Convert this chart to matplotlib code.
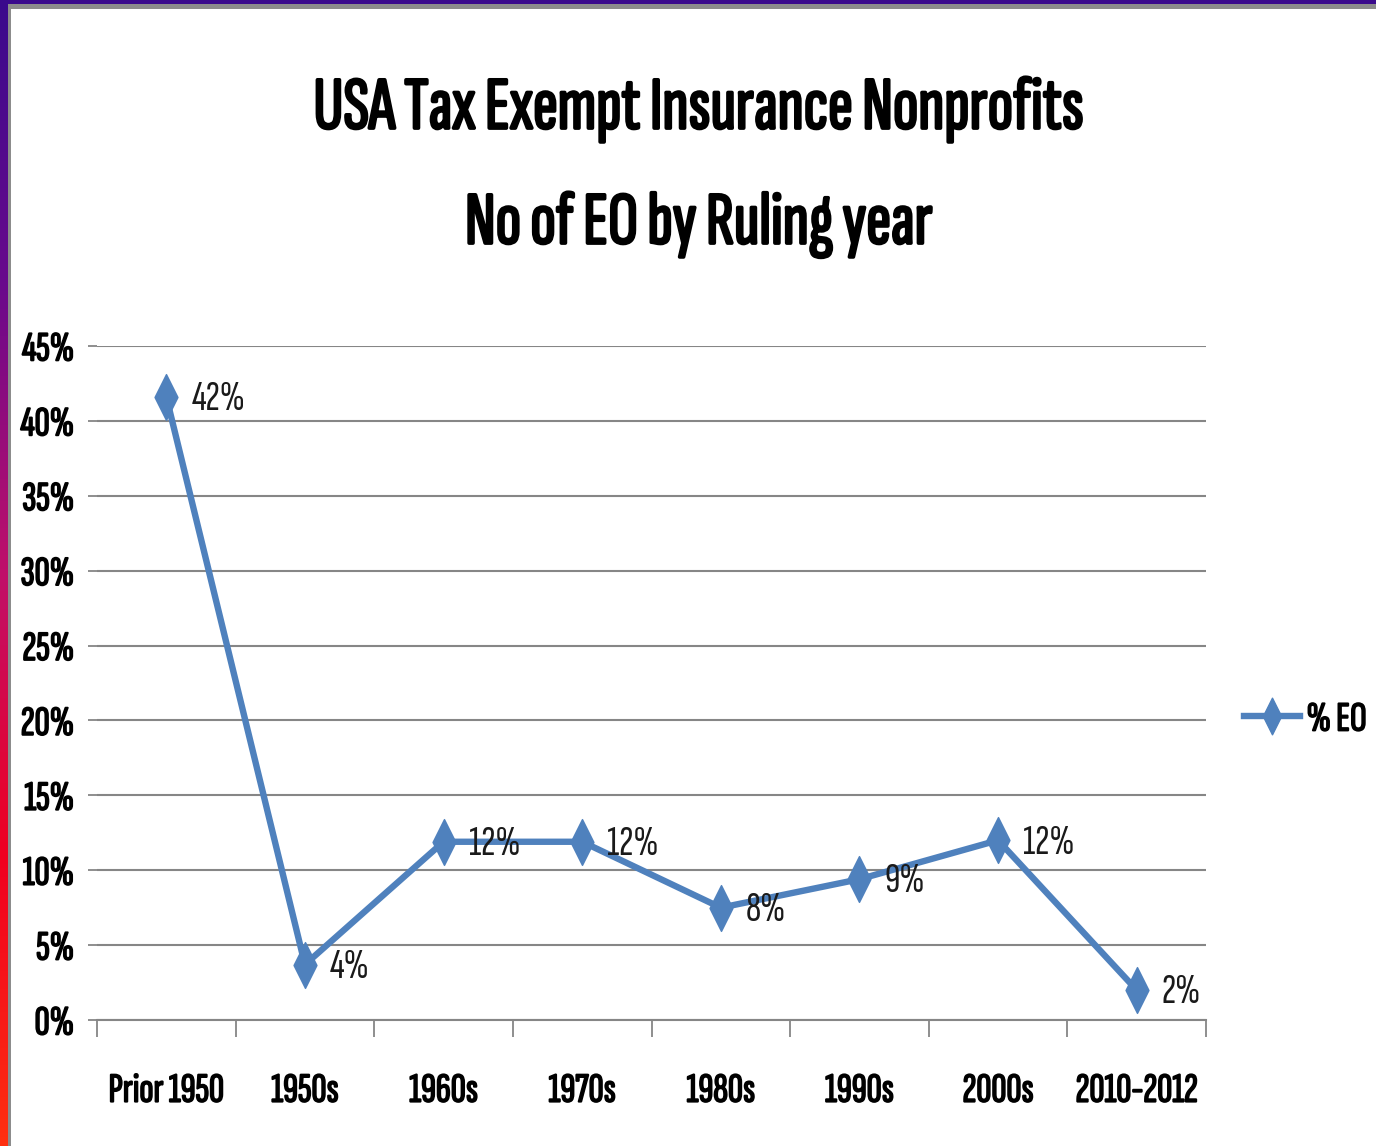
import numpy as np
import matplotlib
matplotlib.use("Agg")
import matplotlib.pyplot as plt
import matplotlib.patheffects as pe
from matplotlib.path import Path

# data
categories = ["Prior 1950", "1950s", "1960s", "1970s", "1980s", "1990s", "2000s", "2010-2012"]
pct_eo = [0.416, 0.037, 0.119, 0.119, 0.075, 0.094, 0.120, 0.020]
pct_labels = ["42%", "4%", "12%", "12%", "8%", "9%", "12%", "2%"]
y_ticks = [0, 0.05, 0.10, 0.15, 0.20, 0.25, 0.30, 0.35, 0.40, 0.45]
y_tick_labels = ["0%", "5%", "10%", "15%", "20%", "25%", "30%", "35%", "40%", "45%"]

FONT = ["Sofia Sans Extra Condensed", "DejaVu Sans"]
BLUE = "#4F81BD"
GRID = "#868686"
# the condensed font has no real bold here, so thicken it with a stroke
BOLD = [pe.withStroke(linewidth=1.2, foreground="black")]
BOLD_BIG = [pe.withStroke(linewidth=2.0, foreground="black")]

# tall narrow diamond marker, like the excel one
diamond = Path([(0, 1), (0.5, 0), (0, -1), (-0.5, 0), (0, 1)],
               [Path.MOVETO, Path.LINETO, Path.LINETO, Path.LINETO, Path.CLOSEPOLY])

W, H = 1376, 1146
fig = plt.figure(figsize=(W / 100, H / 100), dpi=100)
fig.patch.set_facecolor("white")


def band(rect, color):
    a = fig.add_axes(rect)
    a.axis("off")
    a.add_patch(plt.Rectangle((0, 0), 1, 1, color=color, transform=a.transAxes))


# slide frame: purple bar on top, purple->red strip on the left, grey edge inside
band([0, 1 - 4 / H, 1, 4 / H], "#3A0A8C")
band([8 / W, 1 - 9 / H, 1 - 8 / W, 5 / H], "#8C8C8C")
strip = fig.add_axes([0, 0, 8 / W, 1])
grad = np.linspace(0, 1, 256).reshape(-1, 1)
cmap = matplotlib.colors.LinearSegmentedColormap.from_list(
    "edge", ["#3A0A8C", "#6A0A8C", "#C0106A", "#F00020", "#FF3010"])
strip.imshow(grad, aspect="auto", cmap=cmap, extent=[0, 1, 0, 1], origin="upper")
strip.axis("off")
band([8 / W, 0, 3 / W, 1 - 4 / H], "#8C8C8C")

# plot area
ax = fig.add_axes([97 / W, 1 - 1020 / H, (1206 - 97) / W, (1020 - 346) / H])
x = np.arange(len(categories))
line, = ax.plot(x, pct_eo, color=BLUE, lw=4.6, marker=diamond, ms=33,
                mfc=BLUE, mec=BLUE, solid_joinstyle="miter", zorder=3, label="% EO")

for xi, yi, lab in zip(x, pct_eo, pct_labels):
    ax.annotate(lab, (xi, yi), xytext=(18, -2), textcoords="offset points",
                ha="left", va="center", fontsize=31, family=FONT, fontweight="light",
                color="#1a1a1a", zorder=4)

ax.set_xlim(-0.5, len(categories) - 0.5)
ax.set_ylim(0, 0.45)
ax.set_yticks(y_ticks)
ax.set_yticklabels(y_tick_labels, family=FONT, fontsize=30, path_effects=BOLD)
ax.set_xticks(x)
ax.set_xticklabels(categories, family=FONT, fontsize=30, path_effects=BOLD)
ax.set_xticks(np.arange(-0.5, len(categories)), minor=True)
ax.tick_params(axis="x", which="major", length=0, pad=38)
ax.tick_params(axis="x", which="minor", length=12, width=1.3, color=GRID, direction="out")
ax.tick_params(axis="y", length=6.5, width=1.3, color=GRID, pad=10)
ax.grid(axis="y", color=GRID, lw=1.5)
ax.set_axisbelow(True)
for side in ["left", "top", "right"]:
    ax.spines[side].set_visible(False)
ax.spines["bottom"].set_color(GRID)
ax.spines["bottom"].set_linewidth(1.5)

fig.text(699 / W, 1 - 110 / H, "USA Tax Exempt Insurance Nonprofits", ha="center",
         va="center", fontsize=54, family=FONT, path_effects=BOLD_BIG)
fig.text(699 / W, 1 - 225 / H, "No of EO by Ruling year", ha="center",
         va="center", fontsize=54, family=FONT, path_effects=BOLD_BIG)

leg = fig.legend(handles=[line], loc="center left", bbox_to_anchor=(1244 / W, 1 - 720 / H),
                 frameon=False, handlelength=1.35, handletextpad=0.15, markerscale=0.8,
                 borderaxespad=0, borderpad=0,
                 prop={"family": FONT, "size": 30})
for t in leg.get_texts():
    t.set_path_effects(BOLD)

fig.savefig("out.png", dpi=100, facecolor="white")
